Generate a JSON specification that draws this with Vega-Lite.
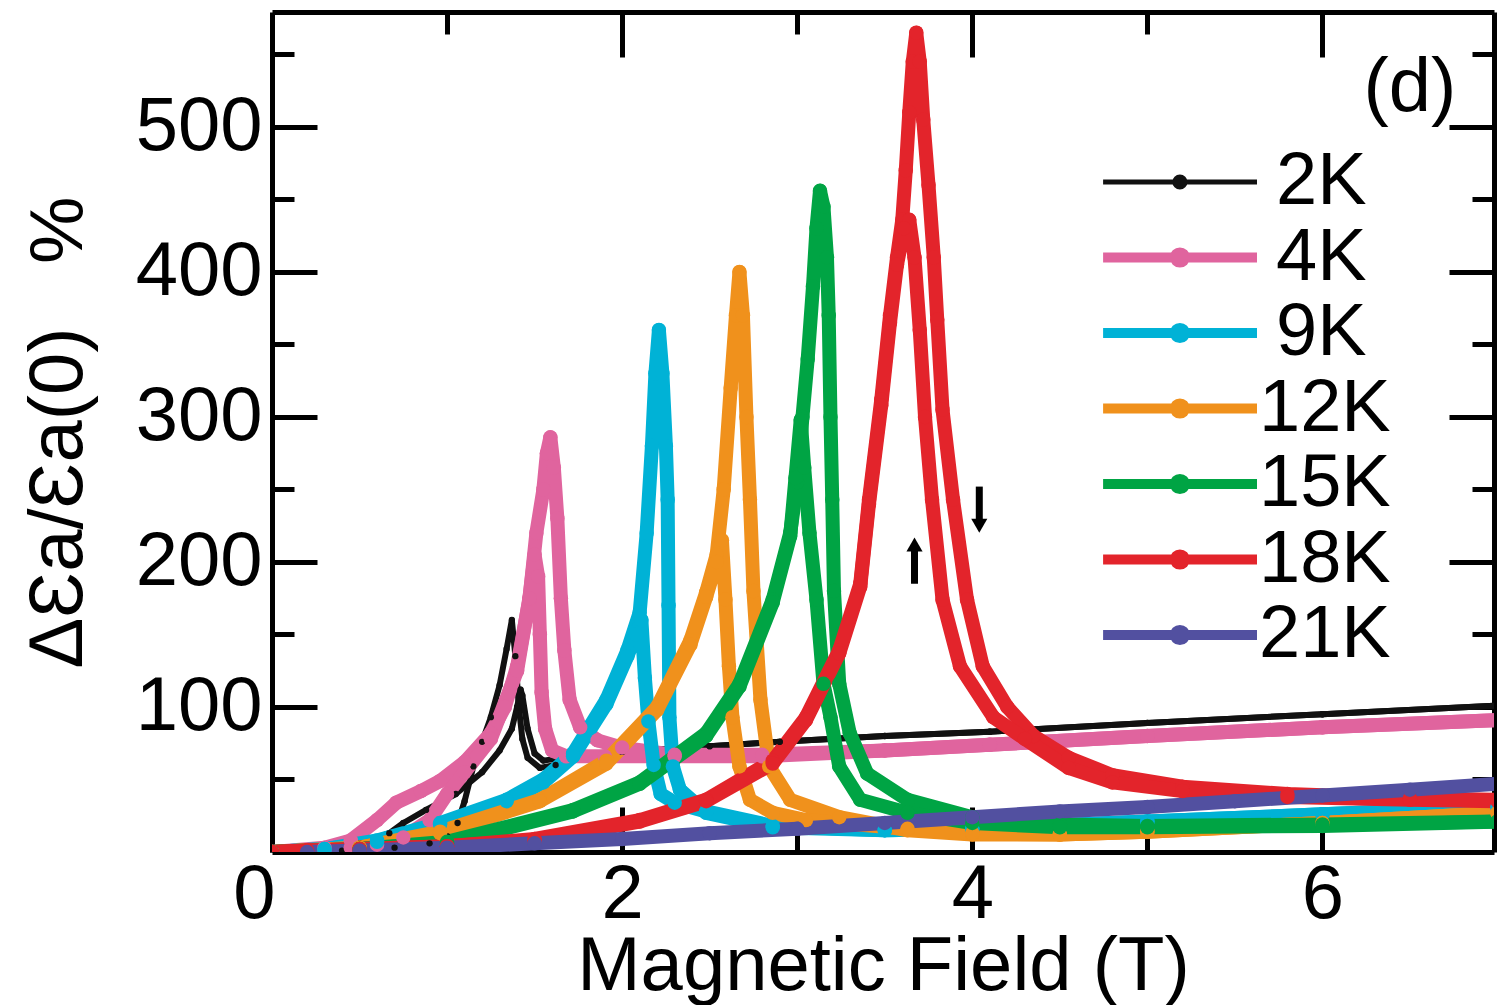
{
"$schema":"https://vega.github.io/schema/vega-lite/v6.json",
"width":1222,"height":840,
"autosize":{"type":"none"},
"padding":{"left":272,"top":12,"right":3,"bottom":153},
"background":"white",
"config":{
 "view":{"stroke":null},
 "axis":{"domainColor":"black","domainWidth":5,"tickColor":"black","tickWidth":5,"labelFont":"Liberation Sans","labelFontSize":76,"labelColor":"black","titleFont":"Liberation Sans","titleFontSize":76,"titleFontWeight":"normal","titleColor":"black","grid":false,"labelOverlap":false,"labelBound":false,"labelFlush":false}
},
"datasets":{"curves":[
{"s":"2K","d":"u","i":0,"x":0,"y":0},{"s":"2K","d":"u","i":1,"x":0.4,"y":1},{"s":"2K","d":"u","i":2,"x":0.7,"y":3},{"s":"2K","d":"u","i":3,"x":0.9,"y":6},{"s":"2K","d":"u","i":4,"x":1.0,"y":11},{"s":"2K","d":"u","i":5,"x":1.06,"y":20},{"s":"2K","d":"u","i":6,"x":1.1,"y":35},{"s":"2K","d":"u","i":7,"x":1.15,"y":59},{"s":"2K","d":"u","i":8,"x":1.2,"y":76},{"s":"2K","d":"u","i":9,"x":1.25,"y":93},{"s":"2K","d":"u","i":10,"x":1.3,"y":115},{"s":"2K","d":"u","i":11,"x":1.34,"y":140},{"s":"2K","d":"u","i":12,"x":1.37,"y":160},{"s":"2K","d":"u","i":13,"x":1.39,"y":135},{"s":"2K","d":"u","i":14,"x":1.41,"y":100},{"s":"2K","d":"u","i":15,"x":1.43,"y":78},{"s":"2K","d":"u","i":16,"x":1.46,"y":65},{"s":"2K","d":"u","i":17,"x":1.53,"y":58},{"s":"2K","d":"u","i":18,"x":1.62,"y":60},{"s":"2K","d":"u","i":19,"x":1.72,"y":65},{"s":"2K","d":"u","i":20,"x":2.0,"y":69},{"s":"2K","d":"u","i":21,"x":2.5,"y":73},{"s":"2K","d":"u","i":22,"x":2.9,"y":76},{"s":"2K","d":"u","i":23,"x":3.5,"y":80},{"s":"2K","d":"u","i":24,"x":4.1,"y":83},{"s":"2K","d":"u","i":25,"x":5,"y":89},{"s":"2K","d":"u","i":26,"x":6,"y":95},{"s":"2K","d":"u","i":27,"x":7,"y":101},
{"s":"2K","d":"d","i":0,"x":7,"y":101},{"s":"2K","d":"d","i":1,"x":6,"y":95},{"s":"2K","d":"d","i":2,"x":5,"y":89},{"s":"2K","d":"d","i":3,"x":4.1,"y":83},{"s":"2K","d":"d","i":4,"x":3.5,"y":80},{"s":"2K","d":"d","i":5,"x":2.9,"y":76},{"s":"2K","d":"d","i":6,"x":2.5,"y":73},{"s":"2K","d":"d","i":7,"x":2.0,"y":69},{"s":"2K","d":"d","i":8,"x":1.72,"y":66},{"s":"2K","d":"d","i":9,"x":1.55,"y":63},{"s":"2K","d":"d","i":10,"x":1.5,"y":68},{"s":"2K","d":"d","i":11,"x":1.46,"y":85},{"s":"2K","d":"d","i":12,"x":1.43,"y":108},{"s":"2K","d":"d","i":13,"x":1.42,"y":112},{"s":"2K","d":"d","i":14,"x":1.4,"y":100},{"s":"2K","d":"d","i":15,"x":1.37,"y":85},{"s":"2K","d":"d","i":16,"x":1.3,"y":70},{"s":"2K","d":"d","i":17,"x":1.2,"y":55},{"s":"2K","d":"d","i":18,"x":1.05,"y":40},{"s":"2K","d":"d","i":19,"x":0.88,"y":29},{"s":"2K","d":"d","i":20,"x":0.75,"y":20},{"s":"2K","d":"d","i":21,"x":0.67,"y":13},{"s":"2K","d":"d","i":22,"x":0.5,"y":6},{"s":"2K","d":"d","i":23,"x":0.3,"y":2},{"s":"2K","d":"d","i":24,"x":0,"y":0},
{"s":"4K","d":"u","i":0,"x":0,"y":0},{"s":"4K","d":"u","i":1,"x":0.3,"y":3},{"s":"4K","d":"u","i":2,"x":0.45,"y":8},{"s":"4K","d":"u","i":3,"x":0.6,"y":22},{"s":"4K","d":"u","i":4,"x":0.71,"y":34},{"s":"4K","d":"u","i":5,"x":0.85,"y":42},{"s":"4K","d":"u","i":6,"x":0.96,"y":49},{"s":"4K","d":"u","i":7,"x":1.1,"y":62},{"s":"4K","d":"u","i":8,"x":1.25,"y":82},{"s":"4K","d":"u","i":9,"x":1.33,"y":100},{"s":"4K","d":"u","i":10,"x":1.4,"y":128},{"s":"4K","d":"u","i":11,"x":1.47,"y":174},{"s":"4K","d":"u","i":12,"x":1.51,"y":220},{"s":"4K","d":"u","i":13,"x":1.55,"y":250},{"s":"4K","d":"u","i":14,"x":1.57,"y":275},{"s":"4K","d":"u","i":15,"x":1.59,"y":286},{"s":"4K","d":"u","i":16,"x":1.61,"y":265},{"s":"4K","d":"u","i":17,"x":1.63,"y":230},{"s":"4K","d":"u","i":18,"x":1.65,"y":175},{"s":"4K","d":"u","i":19,"x":1.67,"y":139},{"s":"4K","d":"u","i":20,"x":1.7,"y":105},{"s":"4K","d":"u","i":21,"x":1.76,"y":86},{"s":"4K","d":"u","i":22,"x":1.86,"y":77},{"s":"4K","d":"u","i":23,"x":2.0,"y":72},{"s":"4K","d":"u","i":24,"x":2.3,"y":67},{"s":"4K","d":"u","i":25,"x":2.8,"y":67},{"s":"4K","d":"u","i":26,"x":3.5,"y":70},{"s":"4K","d":"u","i":27,"x":4.1,"y":74},{"s":"4K","d":"u","i":28,"x":5,"y":80},{"s":"4K","d":"u","i":29,"x":6,"y":86},{"s":"4K","d":"u","i":30,"x":7,"y":91},
{"s":"4K","d":"d","i":0,"x":7,"y":91},{"s":"4K","d":"d","i":1,"x":6,"y":86},{"s":"4K","d":"d","i":2,"x":5,"y":80},{"s":"4K","d":"d","i":3,"x":4.1,"y":74},{"s":"4K","d":"d","i":4,"x":3.5,"y":70},{"s":"4K","d":"d","i":5,"x":2.8,"y":66},{"s":"4K","d":"d","i":6,"x":2.3,"y":66},{"s":"4K","d":"d","i":7,"x":1.9,"y":66},{"s":"4K","d":"d","i":8,"x":1.68,"y":66},{"s":"4K","d":"d","i":9,"x":1.6,"y":70},{"s":"4K","d":"d","i":10,"x":1.56,"y":85},{"s":"4K","d":"d","i":11,"x":1.54,"y":110},{"s":"4K","d":"d","i":12,"x":1.53,"y":150},{"s":"4K","d":"d","i":13,"x":1.52,"y":190},{"s":"4K","d":"d","i":14,"x":1.5,"y":205},{"s":"4K","d":"d","i":15,"x":1.47,"y":175},{"s":"4K","d":"d","i":16,"x":1.4,"y":125},{"s":"4K","d":"d","i":17,"x":1.25,"y":78},{"s":"4K","d":"d","i":18,"x":1.1,"y":55},{"s":"4K","d":"d","i":19,"x":1.0,"y":40},{"s":"4K","d":"d","i":20,"x":0.9,"y":22},{"s":"4K","d":"d","i":21,"x":0.75,"y":10},{"s":"4K","d":"d","i":22,"x":0.6,"y":5},{"s":"4K","d":"d","i":23,"x":0.45,"y":3},{"s":"4K","d":"d","i":24,"x":0.3,"y":2},{"s":"4K","d":"d","i":25,"x":0,"y":0},
{"s":"9K","d":"u","i":0,"x":0,"y":0},{"s":"9K","d":"u","i":1,"x":0.3,"y":2},{"s":"9K","d":"u","i":2,"x":0.6,"y":8},{"s":"9K","d":"u","i":3,"x":0.96,"y":20},{"s":"9K","d":"u","i":4,"x":1.34,"y":36},{"s":"9K","d":"u","i":5,"x":1.55,"y":50},{"s":"9K","d":"u","i":6,"x":1.72,"y":68},{"s":"9K","d":"u","i":7,"x":1.91,"y":105},{"s":"9K","d":"u","i":8,"x":2.03,"y":139},{"s":"9K","d":"u","i":9,"x":2.1,"y":165},{"s":"9K","d":"u","i":10,"x":2.14,"y":220},{"s":"9K","d":"u","i":11,"x":2.17,"y":280},{"s":"9K","d":"u","i":12,"x":2.19,"y":330},{"s":"9K","d":"u","i":13,"x":2.21,"y":360},{"s":"9K","d":"u","i":14,"x":2.23,"y":330},{"s":"9K","d":"u","i":15,"x":2.25,"y":280},{"s":"9K","d":"u","i":16,"x":2.26,"y":243},{"s":"9K","d":"u","i":17,"x":2.265,"y":170},{"s":"9K","d":"u","i":18,"x":2.27,"y":93},{"s":"9K","d":"u","i":19,"x":2.29,"y":59},{"s":"9K","d":"u","i":20,"x":2.33,"y":43},{"s":"9K","d":"u","i":21,"x":2.48,"y":27},{"s":"9K","d":"u","i":22,"x":2.86,"y":17},{"s":"9K","d":"u","i":23,"x":3.5,"y":15},{"s":"9K","d":"u","i":24,"x":4,"y":16},{"s":"9K","d":"u","i":25,"x":5,"y":21},{"s":"9K","d":"u","i":26,"x":6,"y":26},{"s":"9K","d":"u","i":27,"x":7,"y":31},
{"s":"9K","d":"d","i":0,"x":7,"y":31},{"s":"9K","d":"d","i":1,"x":6,"y":26},{"s":"9K","d":"d","i":2,"x":5,"y":21},{"s":"9K","d":"d","i":3,"x":4,"y":16},{"s":"9K","d":"d","i":4,"x":3.5,"y":15},{"s":"9K","d":"d","i":5,"x":2.86,"y":18},{"s":"9K","d":"d","i":6,"x":2.48,"y":28},{"s":"9K","d":"d","i":7,"x":2.3,"y":34},{"s":"9K","d":"d","i":8,"x":2.22,"y":40},{"s":"9K","d":"d","i":9,"x":2.18,"y":60},{"s":"9K","d":"d","i":10,"x":2.15,"y":90},{"s":"9K","d":"d","i":11,"x":2.13,"y":120},{"s":"9K","d":"d","i":12,"x":2.11,"y":160},{"s":"9K","d":"d","i":13,"x":2.08,"y":150},{"s":"9K","d":"d","i":14,"x":2.03,"y":135},{"s":"9K","d":"d","i":15,"x":1.91,"y":102},{"s":"9K","d":"d","i":16,"x":1.72,"y":66},{"s":"9K","d":"d","i":17,"x":1.55,"y":48},{"s":"9K","d":"d","i":18,"x":1.34,"y":35},{"s":"9K","d":"d","i":19,"x":0.96,"y":19},{"s":"9K","d":"d","i":20,"x":0.6,"y":7},{"s":"9K","d":"d","i":21,"x":0.3,"y":2},{"s":"9K","d":"d","i":22,"x":0,"y":0},
{"s":"12K","d":"u","i":0,"x":0,"y":0},{"s":"12K","d":"u","i":1,"x":0.5,"y":3},{"s":"12K","d":"u","i":2,"x":0.96,"y":14},{"s":"12K","d":"u","i":3,"x":1.53,"y":36},{"s":"12K","d":"u","i":4,"x":1.91,"y":63},{"s":"12K","d":"u","i":5,"x":2.2,"y":100},{"s":"12K","d":"u","i":6,"x":2.39,"y":146},{"s":"12K","d":"u","i":7,"x":2.48,"y":179},{"s":"12K","d":"u","i":8,"x":2.54,"y":205},{"s":"12K","d":"u","i":9,"x":2.58,"y":250},{"s":"12K","d":"u","i":10,"x":2.62,"y":320},{"s":"12K","d":"u","i":11,"x":2.65,"y":370},{"s":"12K","d":"u","i":12,"x":2.67,"y":400},{"s":"12K","d":"u","i":13,"x":2.69,"y":370},{"s":"12K","d":"u","i":14,"x":2.71,"y":300},{"s":"12K","d":"u","i":15,"x":2.73,"y":243},{"s":"12K","d":"u","i":16,"x":2.75,"y":180},{"s":"12K","d":"u","i":17,"x":2.79,"y":105},{"s":"12K","d":"u","i":18,"x":2.84,"y":59},{"s":"12K","d":"u","i":19,"x":2.96,"y":36},{"s":"12K","d":"u","i":20,"x":3.24,"y":24},{"s":"12K","d":"u","i":21,"x":3.63,"y":15},{"s":"12K","d":"u","i":22,"x":4,"y":12},{"s":"12K","d":"u","i":23,"x":4.5,"y":12},{"s":"12K","d":"u","i":24,"x":5,"y":14},{"s":"12K","d":"u","i":25,"x":6,"y":20},{"s":"12K","d":"u","i":26,"x":7,"y":27},
{"s":"12K","d":"d","i":0,"x":7,"y":27},{"s":"12K","d":"d","i":1,"x":6,"y":20},{"s":"12K","d":"d","i":2,"x":5,"y":14},{"s":"12K","d":"d","i":3,"x":4.5,"y":12},{"s":"12K","d":"d","i":4,"x":4,"y":13},{"s":"12K","d":"d","i":5,"x":3.63,"y":16},{"s":"12K","d":"d","i":6,"x":3.05,"y":22},{"s":"12K","d":"d","i":7,"x":2.86,"y":27},{"s":"12K","d":"d","i":8,"x":2.73,"y":36},{"s":"12K","d":"d","i":9,"x":2.67,"y":59},{"s":"12K","d":"d","i":10,"x":2.63,"y":93},{"s":"12K","d":"d","i":11,"x":2.61,"y":128},{"s":"12K","d":"d","i":12,"x":2.59,"y":174},{"s":"12K","d":"d","i":13,"x":2.57,"y":215},{"s":"12K","d":"d","i":14,"x":2.54,"y":200},{"s":"12K","d":"d","i":15,"x":2.48,"y":176},{"s":"12K","d":"d","i":16,"x":2.39,"y":143},{"s":"12K","d":"d","i":17,"x":2.2,"y":98},{"s":"12K","d":"d","i":18,"x":1.91,"y":61},{"s":"12K","d":"d","i":19,"x":1.53,"y":35},{"s":"12K","d":"d","i":20,"x":0.96,"y":13},{"s":"12K","d":"d","i":21,"x":0.5,"y":3},{"s":"12K","d":"d","i":22,"x":0,"y":0},
{"s":"15K","d":"u","i":0,"x":0,"y":0},{"s":"15K","d":"u","i":1,"x":0.5,"y":2},{"s":"15K","d":"u","i":2,"x":1.0,"y":7},{"s":"15K","d":"u","i":3,"x":1.72,"y":29},{"s":"15K","d":"u","i":4,"x":2.1,"y":48},{"s":"15K","d":"u","i":5,"x":2.48,"y":82},{"s":"15K","d":"u","i":6,"x":2.67,"y":116},{"s":"15K","d":"u","i":7,"x":2.86,"y":174},{"s":"15K","d":"u","i":8,"x":2.96,"y":220},{"s":"15K","d":"u","i":9,"x":3.0,"y":255},{"s":"15K","d":"u","i":10,"x":3.03,"y":300},{"s":"15K","d":"u","i":11,"x":3.06,"y":340},{"s":"15K","d":"u","i":12,"x":3.09,"y":390},{"s":"15K","d":"u","i":13,"x":3.11,"y":430},{"s":"15K","d":"u","i":14,"x":3.13,"y":456},{"s":"15K","d":"u","i":15,"x":3.15,"y":445},{"s":"15K","d":"u","i":16,"x":3.17,"y":410},{"s":"15K","d":"u","i":17,"x":3.18,"y":370},{"s":"15K","d":"u","i":18,"x":3.19,"y":300},{"s":"15K","d":"u","i":19,"x":3.2,"y":243},{"s":"15K","d":"u","i":20,"x":3.21,"y":180},{"s":"15K","d":"u","i":21,"x":3.24,"y":116},{"s":"15K","d":"u","i":22,"x":3.3,"y":82},{"s":"15K","d":"u","i":23,"x":3.4,"y":54},{"s":"15K","d":"u","i":24,"x":3.63,"y":36},{"s":"15K","d":"u","i":25,"x":4.0,"y":24},{"s":"15K","d":"u","i":26,"x":4.5,"y":19},{"s":"15K","d":"u","i":27,"x":5,"y":18},{"s":"15K","d":"u","i":28,"x":6,"y":19},{"s":"15K","d":"u","i":29,"x":7,"y":21},
{"s":"15K","d":"d","i":0,"x":7,"y":21},{"s":"15K","d":"d","i":1,"x":6,"y":18},{"s":"15K","d":"d","i":2,"x":5,"y":17},{"s":"15K","d":"d","i":3,"x":4.5,"y":17},{"s":"15K","d":"d","i":4,"x":4,"y":20},{"s":"15K","d":"d","i":5,"x":3.63,"y":27},{"s":"15K","d":"d","i":6,"x":3.36,"y":36},{"s":"15K","d":"d","i":7,"x":3.24,"y":59},{"s":"15K","d":"d","i":8,"x":3.19,"y":93},{"s":"15K","d":"d","i":9,"x":3.15,"y":116},{"s":"15K","d":"d","i":10,"x":3.11,"y":174},{"s":"15K","d":"d","i":11,"x":3.07,"y":220},{"s":"15K","d":"d","i":12,"x":3.04,"y":265},{"s":"15K","d":"d","i":13,"x":3.02,"y":298},{"s":"15K","d":"d","i":14,"x":2.99,"y":258},{"s":"15K","d":"d","i":15,"x":2.96,"y":218},{"s":"15K","d":"d","i":16,"x":2.86,"y":172},{"s":"15K","d":"d","i":17,"x":2.67,"y":114},{"s":"15K","d":"d","i":18,"x":2.48,"y":80},{"s":"15K","d":"d","i":19,"x":2.1,"y":47},{"s":"15K","d":"d","i":20,"x":1.72,"y":28},{"s":"15K","d":"d","i":21,"x":1.0,"y":6},{"s":"15K","d":"d","i":22,"x":0.5,"y":2},{"s":"15K","d":"d","i":23,"x":0,"y":0},
{"s":"18K","d":"u","i":0,"x":0,"y":0},{"s":"18K","d":"u","i":1,"x":0.2,"y":1},{"s":"18K","d":"u","i":2,"x":0.5,"y":2},{"s":"18K","d":"u","i":3,"x":1.0,"y":4},{"s":"18K","d":"u","i":4,"x":1.5,"y":9},{"s":"18K","d":"u","i":5,"x":2.1,"y":22},{"s":"18K","d":"u","i":6,"x":2.48,"y":36},{"s":"18K","d":"u","i":7,"x":2.86,"y":63},{"s":"18K","d":"u","i":8,"x":3.05,"y":93},{"s":"18K","d":"u","i":9,"x":3.24,"y":139},{"s":"18K","d":"u","i":10,"x":3.36,"y":185},{"s":"18K","d":"u","i":11,"x":3.41,"y":243},{"s":"18K","d":"u","i":12,"x":3.48,"y":312},{"s":"18K","d":"u","i":13,"x":3.53,"y":370},{"s":"18K","d":"u","i":14,"x":3.57,"y":410},{"s":"18K","d":"u","i":15,"x":3.6,"y":436},{"s":"18K","d":"u","i":16,"x":3.62,"y":470},{"s":"18K","d":"u","i":17,"x":3.64,"y":510},{"s":"18K","d":"u","i":18,"x":3.66,"y":545},{"s":"18K","d":"u","i":19,"x":3.68,"y":565},{"s":"18K","d":"u","i":20,"x":3.7,"y":545},{"s":"18K","d":"u","i":21,"x":3.72,"y":505},{"s":"18K","d":"u","i":22,"x":3.75,"y":460},{"s":"18K","d":"u","i":23,"x":3.78,"y":410},{"s":"18K","d":"u","i":24,"x":3.8,"y":367},{"s":"18K","d":"u","i":25,"x":3.83,"y":305},{"s":"18K","d":"u","i":26,"x":3.89,"y":243},{"s":"18K","d":"u","i":27,"x":3.97,"y":174},{"s":"18K","d":"u","i":28,"x":4.06,"y":128},{"s":"18K","d":"u","i":29,"x":4.2,"y":100},{"s":"18K","d":"u","i":30,"x":4.35,"y":80},{"s":"18K","d":"u","i":31,"x":4.55,"y":65},{"s":"18K","d":"u","i":32,"x":4.8,"y":53},{"s":"18K","d":"u","i":33,"x":5.2,"y":45},{"s":"18K","d":"u","i":34,"x":5.8,"y":40},{"s":"18K","d":"u","i":35,"x":6.5,"y":37},{"s":"18K","d":"u","i":36,"x":7,"y":36},
{"s":"18K","d":"d","i":0,"x":7,"y":35},{"s":"18K","d":"d","i":1,"x":6.5,"y":36},{"s":"18K","d":"d","i":2,"x":5.8,"y":38},{"s":"18K","d":"d","i":3,"x":5.2,"y":42},{"s":"18K","d":"d","i":4,"x":4.8,"y":48},{"s":"18K","d":"d","i":5,"x":4.55,"y":58},{"s":"18K","d":"d","i":6,"x":4.3,"y":78},{"s":"18K","d":"d","i":7,"x":4.12,"y":93},{"s":"18K","d":"d","i":8,"x":3.93,"y":128},{"s":"18K","d":"d","i":9,"x":3.83,"y":174},{"s":"18K","d":"d","i":10,"x":3.77,"y":243},{"s":"18K","d":"d","i":11,"x":3.73,"y":300},{"s":"18K","d":"d","i":12,"x":3.7,"y":360},{"s":"18K","d":"d","i":13,"x":3.67,"y":410},{"s":"18K","d":"d","i":14,"x":3.64,"y":436},{"s":"18K","d":"d","i":15,"x":3.61,"y":430},{"s":"18K","d":"d","i":16,"x":3.57,"y":405},{"s":"18K","d":"d","i":17,"x":3.53,"y":365},{"s":"18K","d":"d","i":18,"x":3.48,"y":308},{"s":"18K","d":"d","i":19,"x":3.41,"y":240},{"s":"18K","d":"d","i":20,"x":3.36,"y":183},{"s":"18K","d":"d","i":21,"x":3.24,"y":137},{"s":"18K","d":"d","i":22,"x":3.05,"y":91},{"s":"18K","d":"d","i":23,"x":2.86,"y":61},{"s":"18K","d":"d","i":24,"x":2.48,"y":35},{"s":"18K","d":"d","i":25,"x":2.1,"y":21},{"s":"18K","d":"d","i":26,"x":1.5,"y":8},{"s":"18K","d":"d","i":27,"x":1.0,"y":4},{"s":"18K","d":"d","i":28,"x":0.5,"y":2},{"s":"18K","d":"d","i":29,"x":0.2,"y":1},{"s":"18K","d":"d","i":30,"x":0,"y":0},
{"s":"21K","d":"u","i":0,"x":0.2,"y":0},{"s":"21K","d":"u","i":1,"x":0.5,"y":1},{"s":"21K","d":"u","i":2,"x":1,"y":3},{"s":"21K","d":"u","i":3,"x":1.5,"y":6},{"s":"21K","d":"u","i":4,"x":2,"y":9},{"s":"21K","d":"u","i":5,"x":2.5,"y":13},{"s":"21K","d":"u","i":6,"x":3,"y":16},{"s":"21K","d":"u","i":7,"x":3.5,"y":20},{"s":"21K","d":"u","i":8,"x":4,"y":24},{"s":"21K","d":"u","i":9,"x":4.5,"y":28},{"s":"21K","d":"u","i":10,"x":5,"y":31},{"s":"21K","d":"u","i":11,"x":5.5,"y":35},{"s":"21K","d":"u","i":12,"x":6,"y":39},{"s":"21K","d":"u","i":13,"x":6.5,"y":43},{"s":"21K","d":"u","i":14,"x":7,"y":47}
]},
"layer":[
{"data":{"name":"curves"},
 "mark":{"type":"line","clip":true,"strokeJoin":"round","strokeCap":"round"},
 "encoding":{
  "x":{"field":"x","type":"quantitative","scale":{"domain":[0,6.98],"nice":false,"zero":false},
   "axis":{"orient":"bottom","title":"Magnetic Field (T)","values":[0,1,2,3,4,5,6],
    "tickSize":{"condition":{"test":"datum.value % 2 === 0","value":-45},"value":-22},
    "labelExpr":"datum.value % 2 === 0 ? datum.label : ''",
    "labelOffset":{"condition":{"test":"datum.value === 0","value":-18},"value":0},
    "labelPadding":50,"titlePadding":-26}},
  "y":{"field":"y","type":"quantitative","scale":{"domain":[0,579.3],"nice":false},
   "axis":{"orient":"left","title":"ΔƐa/Ɛa(0)\u00a0\u00a0\u00a0%","values":[50,100,150,200,250,300,350,400,450,500,550],
    "tickSize":{"condition":{"test":"datum.value % 100 === 0","value":-45},"value":-22},
    "labelExpr":"datum.value % 100 === 0 ? datum.label : ''",
    "labelPadding":55,"titlePadding":38}},
  "color":{"field":"s","type":"nominal",
   "scale":{"domain":["2K","4K","9K","12K","15K","18K","21K"],"range":["#111111","#E0649E","#00B2D6","#F0911C","#00A444","#E3242B","#5250A0"]},
   "legend":{"orient":"none","legendX":918,"legendY":133,"title":null,"padding":0,
    "symbolType":"M-4.13,0H1M-1.4,0A0.17,0.17 0 1,1 -1.74,0A0.17,0.17 0 1,1 -1.4,0Z",
    "symbolSize":3600,"labelFontSize":74,"labelFont":"Liberation Sans","labelColor":"black","rowPadding":1.5,"labelOffset":-5,
    "symbolStrokeWidth":10,
    "encode":{"symbols":{"update":{"fill":{"scale":"color","field":"value"},"stroke":{"scale":"color","field":"value"},"strokeWidth":{"signal":"datum.value === '2K' ? 5 : 10"},"opacity":{"value":1}}},
              "labels":{"update":{"dx":{"signal":"length(datum.label) < 3 ? 17 : 0"}}}}}},
  "detail":{"field":"d"},
  "order":{"field":"i","type":"quantitative"},
  "strokeWidth":{"condition":{"test":"datum.s === '2K'","value":6},"value":14}
 }},
{"data":{"name":"curves"},
 "mark":{"type":"point","filled":true,"opacity":1,"clip":true},
 "encoding":{
  "x":{"field":"x","type":"quantitative","axis":{"orient":"top","title":null,"values":[1,2,3,4,5,6],"labels":false,
    "tickSize":{"condition":{"test":"datum.value % 2 === 0","value":-45},"value":-22}}},
  "y":{"field":"y","type":"quantitative","axis":{"orient":"right","title":null,"values":[50,100,150,200,250,300,350,400,450,500,550],"labels":false,
    "tickSize":{"condition":{"test":"datum.value % 100 === 0","value":-45},"value":-22}}},
  "color":{"field":"s","type":"nominal"},
  "size":{"condition":{"test":"datum.s === '2K'","value":40},"value":210}
 }},
{"data":{"values":[{}]},
 "mark":{"type":"text","text":"(d)","font":"Liberation Sans","fontSize":76,"align":"center","baseline":"middle","color":"black"},
 "encoding":{"x":{"datum":6.5,"type":"quantitative","axis":null},"y":{"datum":527,"type":"quantitative","axis":null}}},
{"data":{"values":[{}]},
 "mark":{"type":"rule","color":"black","strokeWidth":7},
 "encoding":{"x":{"datum":3.67,"type":"quantitative","axis":null},"y":{"datum":185,"type":"quantitative","axis":null},"y2":{"datum":208}}},
{"data":{"values":[{}]},
 "mark":{"type":"point","shape":"triangle-up","filled":true,"color":"black","opacity":1,"size":260},
 "encoding":{"x":{"datum":3.67,"type":"quantitative","axis":null},"y":{"datum":212,"type":"quantitative","axis":null}}},
{"data":{"values":[{}]},
 "mark":{"type":"rule","color":"black","strokeWidth":7},
 "encoding":{"x":{"datum":4.04,"type":"quantitative","axis":null},"y":{"datum":252,"type":"quantitative","axis":null},"y2":{"datum":229}}},
{"data":{"values":[{}]},
 "mark":{"type":"point","shape":"triangle-down","filled":true,"color":"black","opacity":1,"size":260},
 "encoding":{"x":{"datum":4.04,"type":"quantitative","axis":null},"y":{"datum":225,"type":"quantitative","axis":null}}}
]
}
